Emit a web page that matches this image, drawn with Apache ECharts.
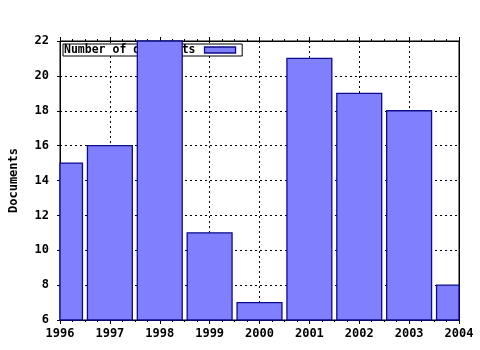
<!DOCTYPE html>
<html>
<head>
<meta charset="utf-8">
<script src="https://cdn.jsdelivr.net/npm/echarts@6/dist/echarts.min.js"></script>
<style>
html,body{margin:0;padding:0;background:#fff;}
#c{width:480px;height:350px;}
</style>
</head>
<body>
<div id="c"></div>
<script>
var years = [1996, 1997, 1998, 1999, 2000, 2001, 2002, 2003, 2004];
var documents = [15, 16, 22, 11, 7, 21, 19, 18, 8];
var seriesName = 'Number of documents';
var yAxisName = 'Documents';

var FONT = '"DejaVu Sans Mono", "Liberation Mono", monospace';
var BAR_FILL = '#8080ff', BAR_EDGE = '#0c0c8c';
var Y_MIN = 6, Y_MAX = 22, BAR_FRACTION = 0.9;
var chart = echarts.init(document.getElementById('c'), null, {renderer: 'canvas'});
var barData = years.map(function (y, i) { return [y, documents[i]]; });

var labelStyle = {color: '#000', fontFamily: FONT, fontWeight: 'bold', fontSize: 12};
var dotted = {show: true, lineStyle: {color: '#000', width: 1, type: [2, 3]}};

function renderBar(params, api) {
  var x = api.value(0), v = api.value(1);
  var top = api.coord([x, v]);
  var base = api.coord([x, Y_MIN]);
  var w = api.size([BAR_FRACTION, 0])[0];
  var rect = {x: top[0] - w / 2, y: top[1], width: w, height: base[1] - top[1]};
  var cs = params.coordSys;
  var clipped = echarts.graphic.clipRectByRect(rect, {x: cs.x, y: cs.y, width: cs.width, height: cs.height});
  if (!clipped) return null;
  return {
    type: 'rect',
    shape: clipped,
    style: {fill: BAR_FILL, stroke: BAR_EDGE, lineWidth: 1.3}
  };
}

chart.setOption({
  animation: false,
  backgroundColor: '#fff',
  grid: {left: 57, right: 21, top: 41, bottom: 30, show: true, borderColor: '#000', borderWidth: 1, backgroundColor: 'transparent'},
  legend: {
    show: true,
    z: 1,
    left: 63, top: 44,
    align: 'right',
    padding: [0, 6, 0, 1],
    itemWidth: 31, itemHeight: 6,
    backgroundColor: '#fff',
    borderColor: '#000', borderWidth: 1,
    textStyle: {color: '#000', fontFamily: FONT, fontWeight: 'bold', fontSize: 11.5, padding: [0, 4, 0, 0], lineHeight: 12},
    data: [{name: seriesName, icon: 'rect', itemStyle: {color: BAR_FILL, borderColor: BAR_EDGE, borderWidth: 1.3}}]
  },
  xAxis: [{
    type: 'value', position: 'bottom', min: 1996, max: 2004, interval: 1,
    axisLine: {show: true, lineStyle: {color: '#000', width: 1}},
    axisTick: {show: true, inside: false, length: 4, lineStyle: {color: '#000'}},
    minorTick: {show: true, splitNumber: 4, length: 2, lineStyle: {color: '#000'}},
    axisLabel: Object.assign({margin: 8, formatter: function (v) { return String(v); }}, labelStyle),
    splitLine: dotted
  }, {
    type: 'value', position: 'top', min: 1996, max: 2004, interval: 1,
    axisLine: {show: true, lineStyle: {color: '#000', width: 1}},
    axisTick: {show: true, inside: false, length: 4, lineStyle: {color: '#000'}},
    minorTick: {show: true, splitNumber: 4, length: 2, lineStyle: {color: '#000'}},
    axisLabel: {show: false},
    splitLine: {show: false}
  }],
  yAxis: [{
    type: 'value', position: 'left', min: Y_MIN, max: Y_MAX, interval: 2,
    name: yAxisName, nameLocation: 'middle', nameGap: 40, nameRotate: 90,
    nameTextStyle: {color: '#000', fontFamily: FONT, fontWeight: 'bold', fontSize: 12},
    axisLine: {show: true, lineStyle: {color: '#000', width: 1}},
    axisTick: {show: true, inside: false, length: 3, lineStyle: {color: '#000'}},
    axisLabel: Object.assign({margin: 11}, labelStyle),
    splitLine: dotted
  }, {
    type: 'value', position: 'right', min: Y_MIN, max: Y_MAX, interval: 2,
    axisLine: {show: true, lineStyle: {color: '#000', width: 1}},
    axisTick: {show: false}, axisLabel: {show: false}, splitLine: {show: false}
  }],
  series: [{
    type: 'custom', name: seriesName, xAxisIndex: 0, yAxisIndex: 0,
    z: 2, renderItem: renderBar,
    itemStyle: {color: BAR_FILL, borderColor: BAR_EDGE},
    encode: {x: 0, y: 1},
    data: barData
  }]
});
</script>
</body>
</html>
